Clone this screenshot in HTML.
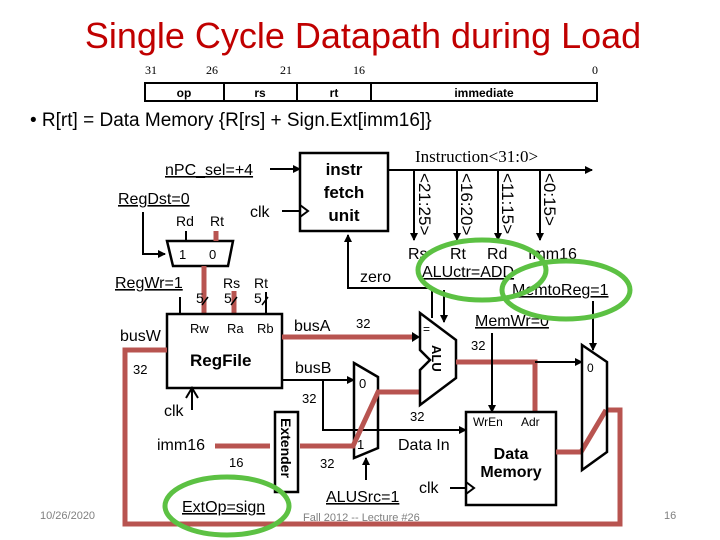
<!DOCTYPE html>
<html><head><meta charset="utf-8"><style>
html,body{margin:0;padding:0;background:#fff}
svg{display:block}
text{font-family:"Liberation Sans",sans-serif}
</style></head><body>
<svg width="720" height="540" viewBox="0 0 720 540" xmlns="http://www.w3.org/2000/svg">
<defs>
<marker id="a" markerWidth="8" markerHeight="8" refX="7" refY="4" orient="auto" markerUnits="userSpaceOnUse"><path d="M0,0 L8,4 L0,8 z" fill="#000"/></marker>
</defs>
<text x="363" y="48" font-size="36" fill="#c00000" text-anchor="middle">Single Cycle Datapath during Load</text>
<g font-size="12">
<text x="145" y="74" style="font-family:'Liberation Serif',serif">31</text><text x="206" y="74" style="font-family:'Liberation Serif',serif">26</text><text x="280" y="74" style="font-family:'Liberation Serif',serif">21</text><text x="353" y="74" style="font-family:'Liberation Serif',serif">16</text><text x="592" y="74" style="font-family:'Liberation Serif',serif">0</text></g>
<rect x="145" y="83" width="452" height="18" fill="none" stroke="#000" stroke-width="2"/>
<path d="M224,83V101M297,83V101M371,83V101" stroke="#000" stroke-width="2"/>
<g font-size="12" font-weight="bold" text-anchor="middle"><text x="184" y="97">op</text><text x="260" y="97">rs</text><text x="334" y="97">rt</text><text x="484" y="97">immediate</text></g>
<text x="30" y="126" font-size="19">• R[rt] = Data Memory {R[rs] + Sign.Ext[imm16]}</text>

<rect x="300" y="153" width="88" height="78" fill="none" stroke="#000" stroke-width="2.5"/>
<g font-size="17" font-weight="bold" text-anchor="middle"><text x="344" y="175">instr</text><text x="344" y="198">fetch</text><text x="344" y="221">unit</text></g>
<text x="165" y="175" font-size="16" text-decoration="underline">nPC_sel=+4</text>
<line x1="270" y1="169" x2="300" y2="169" stroke="#000" stroke-width="2" marker-end="url(#a)"/>
<text x="250" y="217" font-size="16">clk</text>
<line x1="282" y1="211" x2="300" y2="211" stroke="#000" stroke-width="2"/>
<path d="M300,205 L308,211 L300,217" fill="none" stroke="#000" stroke-width="2"/>
<text x="415" y="162" font-size="17" style="font-family:'Liberation Serif',serif">Instruction&lt;31:0&gt;</text>
<line x1="388" y1="170" x2="592" y2="170" stroke="#000" stroke-width="2" marker-end="url(#a)"/>
<g stroke="#000" stroke-width="2"><line x1="414" y1="170" x2="414" y2="240" marker-end="url(#a)"/><line x1="457" y1="170" x2="457" y2="240" marker-end="url(#a)"/><line x1="498" y1="170" x2="498" y2="240" marker-end="url(#a)"/><line x1="540" y1="170" x2="540" y2="240" marker-end="url(#a)"/></g>
<g font-size="17"><text transform="translate(419,173) rotate(90)">&lt;21:25&gt;</text><text transform="translate(461,173) rotate(90)">&lt;16:20&gt;</text><text transform="translate(502,173) rotate(90)">&lt;11:15&gt;</text><text transform="translate(544,173) rotate(90)">&lt;0:15&gt;</text></g>
<g font-size="16"><text x="408" y="259">Rs</text><text x="450" y="259">Rt</text><text x="487" y="259">Rd</text><text x="528" y="259">Imm16</text></g>
<text x="422" y="277" font-size="16" text-decoration="underline">ALUctr=ADD</text>
<text x="512" y="295" font-size="16" text-decoration="underline">MemtoReg=1</text>
<text x="475" y="326" font-size="16" text-decoration="underline">MemWr=0</text>
<text x="360" y="282" font-size="16">zero</text>
<path d="M430,288 H348 V235" fill="none" stroke="#000" stroke-width="2" marker-end="url(#a)"/>
<line x1="432" y1="288" x2="432" y2="318" stroke="#000" stroke-width="2"/>
<line x1="444" y1="290" x2="444" y2="322" stroke="#000" stroke-width="2" marker-end="url(#a)"/>

<text x="118" y="204" font-size="16" text-decoration="underline">RegDst=0</text>
<path d="M143,212 V254 H165" fill="none" stroke="#000" stroke-width="2" marker-end="url(#a)"/>
<polygon points="167,241 233,241 228,266 173,266" fill="none" stroke="#000" stroke-width="2.5"/>
<g font-size="13"><text x="179" y="259">1</text><text x="209" y="259">0</text></g>
<g font-size="14"><text x="176" y="226">Rd</text><text x="210" y="226">Rt</text></g>
<line x1="186" y1="231" x2="186" y2="241" stroke="#000" stroke-width="2"/>
<line x1="216" y1="231" x2="216" y2="241" stroke="#b85450" stroke-width="5"/>
<line x1="204" y1="266" x2="204" y2="314" stroke="#b85450" stroke-width="5"/>
<text x="115" y="288" font-size="16" text-decoration="underline">RegWr=1</text>
<line x1="180" y1="297" x2="180" y2="314" stroke="#000" stroke-width="2"/>
<g font-size="14"><text x="223" y="288">Rs</text><text x="254" y="288">Rt</text><text x="196" y="303">5</text><text x="224" y="303">5</text><text x="254" y="303">5</text></g>
<line x1="234" y1="291" x2="234" y2="314" stroke="#b85450" stroke-width="5"/>
<line x1="266" y1="292" x2="266" y2="314" stroke="#000" stroke-width="2"/>
<g stroke="#000" stroke-width="1.5"><line x1="202" y1="305" x2="208" y2="297"/><line x1="231" y1="305" x2="237" y2="297"/><line x1="262" y1="305" x2="268" y2="297"/></g>
<rect x="167" y="314" width="115" height="74" fill="none" stroke="#000" stroke-width="2.5"/>
<g font-size="13"><text x="190" y="333">Rw</text><text x="227" y="333">Ra</text><text x="257" y="333">Rb</text></g>
<text x="190" y="366" font-size="17" font-weight="bold">RegFile</text>
<text x="120" y="341" font-size="16">busW</text>
<text x="133" y="374" font-size="13">32</text>
<path d="M167,350 H125 V524 H620 V410 H606" fill="none" stroke="#b85450" stroke-width="5"/>
<path d="M186,398 L192,388 L198,398" fill="none" stroke="#000" stroke-width="2"/>
<line x1="192" y1="390" x2="192" y2="410" stroke="#000" stroke-width="2"/>
<text x="164" y="416" font-size="16">clk</text>

<text x="294" y="331" font-size="16">busA</text>
<text x="356" y="328" font-size="13">32</text>
<line x1="282" y1="337" x2="414" y2="337" stroke="#b85450" stroke-width="5"/>
<path d="M412,332 L420,337 L412,342z"/>
<text x="295" y="373" font-size="16">busB</text>
<text x="302" y="403" font-size="13">32</text>
<line x1="282" y1="380" x2="354" y2="380" stroke="#000" stroke-width="2" marker-end="url(#a)"/>
<path d="M323,380 V430 H466" fill="none" stroke="#000" stroke-width="2" marker-end="url(#a)"/>
<text x="410" y="421" font-size="13">32</text>
<text x="398" y="450" font-size="16">Data In</text>

<polygon points="354,363 378,377 378,448 354,458" fill="none" stroke="#000" stroke-width="2.5"/>
<text x="359" y="388" font-size="13">0</text>
<text x="357" y="449" font-size="13">1</text>
<path d="M300,446 H353 L378,392 H420" fill="none" stroke="#b85450" stroke-width="5"/>
<text x="320" y="468" font-size="13">32</text>
<text x="326" y="502" font-size="16" text-decoration="underline">ALUSrc=1</text>
<line x1="366" y1="480" x2="366" y2="458" stroke="#000" stroke-width="2" marker-end="url(#a)"/>

<polygon points="420,313 456,340 456,378 420,405 420,370 430,360 420,350" fill="#fff" stroke="#000" stroke-width="2.5"/>
<text transform="translate(432,345) rotate(90)" font-size="13" font-weight="bold">ALU</text>
<text x="423" y="333" font-size="12">=</text>
<path d="M456,362 H535 V412" fill="none" stroke="#b85450" stroke-width="5"/>
<line x1="535" y1="362" x2="582" y2="362" stroke="#000" stroke-width="2" marker-end="url(#a)"/>
<text x="471" y="350" font-size="13">32</text>
<line x1="492" y1="333" x2="492" y2="412" stroke="#000" stroke-width="2" marker-end="url(#a)"/>

<rect x="466" y="412" width="90" height="93" fill="none" stroke="#000" stroke-width="2.5"/>
<g font-size="12"><text x="473" y="426">WrEn</text><text x="521" y="426">Adr</text></g>
<g font-size="16" font-weight="bold" text-anchor="middle"><text x="511" y="459">Data</text><text x="511" y="477">Memory</text></g>
<text x="419" y="493" font-size="16">clk</text>
<line x1="450" y1="488" x2="466" y2="488" stroke="#000" stroke-width="2"/>
<path d="M466,482 L474,488 L466,494" fill="none" stroke="#000" stroke-width="2"/>
<path d="M556,452 H581 L606,410" fill="none" stroke="#b85450" stroke-width="5"/>

<polygon points="582,345 607,362 607,452 582,470" fill="none" stroke="#000" stroke-width="2.5"/>
<text x="587" y="372" font-size="12">0</text>
<line x1="593" y1="301" x2="593" y2="350" stroke="#000" stroke-width="2" marker-end="url(#a)"/>

<rect x="275" y="412" width="23" height="80" fill="#fff" stroke="#000" stroke-width="2.5"/>
<text transform="translate(281,418) rotate(90)" font-size="14" font-weight="bold">Extender</text>
<text x="157" y="450" font-size="16">imm16</text>
<line x1="215" y1="446" x2="270" y2="446" stroke="#b85450" stroke-width="5"/>
<text x="229" y="467" font-size="13">16</text>
<text x="182" y="512" font-size="16" text-decoration="underline">ExtOp=sign</text>

<g fill="none" stroke="#5cc143" stroke-width="5">
<ellipse cx="482" cy="270" rx="64" ry="30"/>
<ellipse cx="566" cy="290" rx="64" ry="29"/>
<ellipse cx="227" cy="506" rx="62" ry="29"/>
</g>
<g font-size="11" fill="#808080"><text x="40" y="519">10/26/2020</text><text x="303" y="521">Fall 2012 -- Lecture #26</text><text x="664" y="519">16</text></g>
</svg>
</body></html>
